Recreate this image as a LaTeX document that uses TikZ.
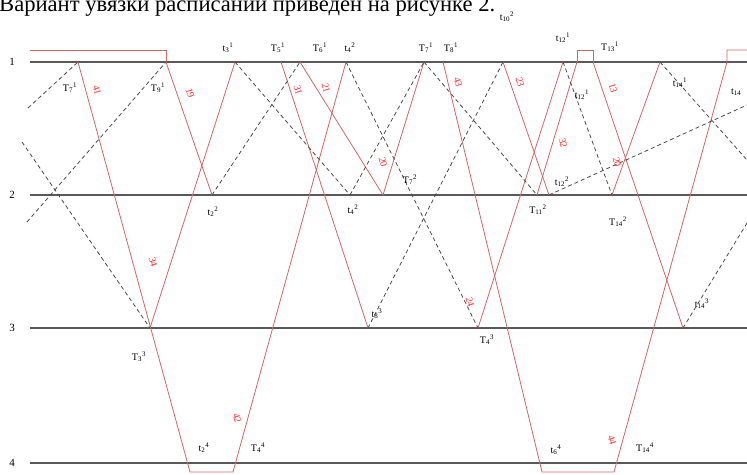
\documentclass[tikz,border=0pt]{standalone}
\usepackage{fontspec}
\setmainfont{Liberation Serif}
\newcommand{\lab}[3]{#1\textsubscript{#2}\textsuperscript{#3}}
\begin{document}
\begin{tikzpicture}[x=1pt,y=-1pt,
  station/.style={draw=black!65,line width=1.3pt},
  redl/.style={draw=red!70!black!60,line width=0.8pt},
  dashl/.style={draw=black!70,dashed,dash pattern=on 4pt off 3pt,line width=0.8pt},
  lbl/.style={font=\fontsize{10}{10}\selectfont,inner sep=1pt},
  rlbl/.style={font=\fontsize{10}{10}\selectfont,text=red!80,inner sep=0pt,rotate=-75},
  slbl/.style={font=\fontsize{11}{11}\selectfont,inner sep=1pt}]
\useasboundingbox (0,0) rectangle (747,474);
\begin{scope}
\clip (0,0) rectangle (747,474);
\node[anchor=base west,inner sep=0] (title) at (-1,11) {\scalebox{1.13}{\fontsize{20}{20}\selectfont Вариант увязки расписаний приведен на рисунке 2.}};
\end{scope}
% stations
\coordinate (s1a) at (30,62); \coordinate (s1b) at (747,62);
\coordinate (s2a) at (30,195); \coordinate (s2b) at (747,195);
\coordinate (s3a) at (30,328); \coordinate (s3b) at (747,328);
\coordinate (s4a) at (30,463); \coordinate (s4b) at (747,463);
\draw[station] (s1a) -- (s1b);
\draw[station] (s2a) -- (s2b);
\draw[station] (s3a) -- (s3b);
\draw[station] (s4a) -- (s4b);
\node[slbl] (n1) at (12,62) {1};
\node[slbl] (n2) at (12,195) {2};
\node[slbl] (n3) at (12,328) {3};
\node[slbl] (n4) at (12,463) {4};
% key points
\coordinate (a1) at (78,62);
\coordinate (a2) at (166,62);
\coordinate (a3) at (235,62);
\coordinate (a4) at (281,62);
\coordinate (a5) at (300,62);
\coordinate (a6) at (346,62);
\coordinate (a7) at (424,62);
\coordinate (a8) at (443,62);
\coordinate (a9) at (503,62);
\coordinate (a10) at (563,62);
\coordinate (a11) at (577,62);
\coordinate (a12) at (593,62);
\coordinate (a13) at (660,62);
\coordinate (a14) at (727,62);
\coordinate (b1) at (212,195);
\coordinate (b2) at (350,195);
\coordinate (b3) at (383,195);
\coordinate (b4) at (537,195);
\coordinate (b5) at (612,195);
\coordinate (b6) at (549,195);
\coordinate (c1) at (150,328);
\coordinate (c2) at (368,328);
\coordinate (c3) at (478,328);
\coordinate (c4) at (683,328);
\coordinate (d1) at (190,472);
\coordinate (d2) at (233,472);
\coordinate (d3) at (542,472);
\coordinate (d4) at (614,472);
% red lines
\draw[redl] (30,50) -- (166,50) -- (a2);
\draw[redl] (a1) -- (d1) -- (d2) -- (a6);
\draw[redl] (a2) -- (b1);
\draw[redl] (c1) -- (a3);
\draw[redl] (a4) -- (c2);
\draw[redl] (a5) -- (b3);
\draw[redl] (a7) -- (b3);
\draw[redl] (a8) -- (d3) -- (d4) -- (a14) -- (727,50) -- (747,50);
\draw[redl] (a11) -- (577,50) -- (593,50) -- (a12);
\draw[redl] (a12) -- (c4);
\draw[redl] (a9) -- (b6);
\draw[redl] (c3) -- (a10);
\draw[redl] (a11) -- (b4);
\draw[redl] (a13) -- (b5);
% dashed lines
\draw[dashl] (28,108) -- (a1);
\draw[dashl] (22,142) -- (c1);
\draw[dashl] (27,222) -- (a2);
\draw[dashl] (b1) -- (a5);
\draw[dashl] (a3) -- (b2);
\draw[dashl] (a6) -- (c3);
\draw[dashl] (b2) -- (a7);
\draw[dashl] (c2) -- (a9);
\draw[dashl] (a7) -- (b4);
\draw[dashl] (b6) -- (747,105);
\draw[dashl] (a10) -- (b5);
\draw[dashl] (a13) -- (747,160);
\draw[dashl] (c4) -- (747,223);
% labels
\node[lbl] (l1) at (70,88) {\lab{T}{7}{1}};
\node[lbl] (l2) at (158,88) {\lab{T}{9}{1}};
\node[lbl] (l3) at (228,48) {\lab{t}{3}{1}};
\node[lbl] (l4) at (278,48) {\lab{T}{5}{1}};
\node[lbl] (l5) at (320,48) {\lab{T}{6}{1}};
\node[lbl] (l6) at (350,48) {\lab{t}{4}{2}};
\node[lbl] (l7) at (426,48) {\lab{T}{7}{1}};
\node[lbl] (l8) at (451,48) {\lab{T}{8}{1}};
\node[lbl] (l9) at (507,17) {\lab{t}{10}{2}};
\node[lbl] (l10) at (563,38) {\lab{t}{12}{1}};
\node[lbl] (l11) at (610,47) {\lab{T}{13}{1}};
\node[lbl] (l12) at (582,95) {\lab{t}{12}{1}};
\node[lbl] (l13) at (680,83) {\lab{t}{14}{1}};
\node[lbl,anchor=west] (l14) at (730,92) {\lab{t}{14}{}};
\node[lbl] (l15) at (213,212) {\lab{t}{2}{2}};
\node[lbl] (l16) at (353,210) {\lab{t}{4}{2}};
\node[lbl] (l17) at (410,180) {\lab{T}{7}{2}};
\node[lbl] (l18) at (538,210) {\lab{T}{11}{2}};
\node[lbl] (l19) at (562,182) {\lab{t}{12}{2}};
\node[lbl] (l20) at (618,222) {\lab{T}{14}{2}};
\node[lbl] (l21) at (377,314) {\lab{t}{8}{3}};
\node[lbl] (l22) at (487,340) {\lab{T}{4}{3}};
\node[lbl] (l23) at (702,304) {\lab{t}{14}{3}};
\node[lbl] (l24) at (139,357) {\lab{T}{3}{3}};
\node[lbl] (l25) at (204,448) {\lab{t}{2}{4}};
\node[lbl] (l26) at (258,448) {\lab{T}{4}{4}};
\node[lbl] (l27) at (556,450) {\lab{t}{6}{4}};
\node[lbl] (l28) at (645,448) {\lab{T}{14}{4}};
% red train numbers
\node[rlbl] (r1) at (97,90) {41};
\node[rlbl] (r2) at (190,93) {19};
\node[rlbl] (r3) at (298,90) {31};
\node[rlbl] (r4) at (326,88) {21};
\node[rlbl] (r5) at (153,262) {34};
\node[rlbl] (r6) at (237,418) {42};
\node[rlbl] (r7) at (383,162) {20};
\node[rlbl] (r8) at (458,82) {43};
\node[rlbl] (r9) at (520,82) {23};
\node[rlbl] (r10) at (563,143) {32};
\node[rlbl] (r11) at (613,88) {13};
\node[rlbl] (r12) at (617,162) {20};
\node[rlbl] (r13) at (470,302) {24};
\node[rlbl] (r14) at (612,440) {44};
\end{tikzpicture}
\end{document}
